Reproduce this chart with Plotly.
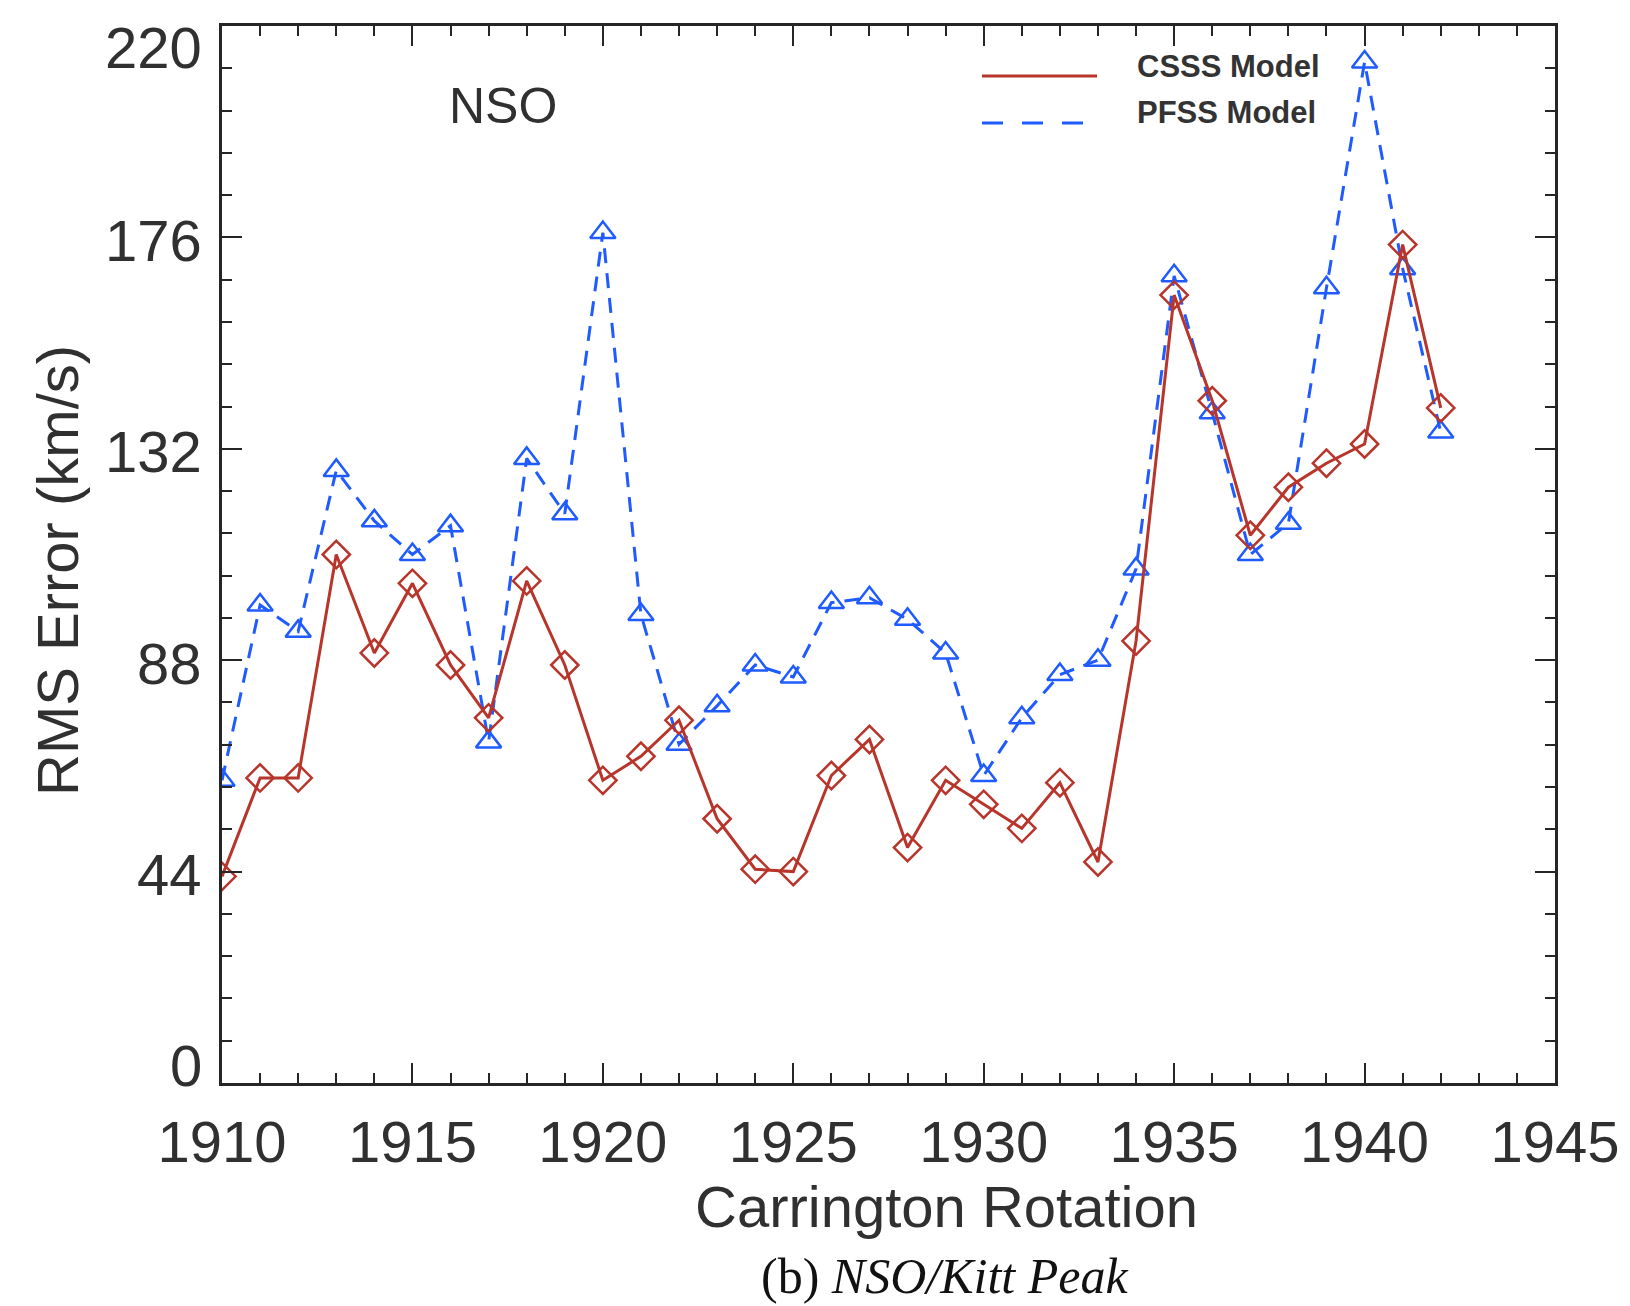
import plotly.graph_objects as go

# Carrington rotation numbers and RMS errors of the solar-wind speed predictions (km/s)
rotations = list(range(1910, 1943))
csss_rms = [43, 63.5, 63.5, 110, 89.5, 104, 87, 76, 104.5, 87, 63, 68, 75.5,
            55, 44.5, 44, 64, 71.5, 49, 63, 58, 53, 62.5, 46, 92, 164, 142,
            114, 124, 129, 133, 174.5, 140.5]
pfss_rms = [63, 99.5, 94, 127.5, 117, 110, 116, 71, 130, 118.5, 177, 97.5, 70.5,
            78.5, 87, 84.5, 100, 101, 96.5, 89.5, 64, 76, 85, 88, 107, 168, 139.5,
            110, 116.5, 165.5, 212.5, 169.5, 135.5]

x_ticks = [1910, 1915, 1920, 1925, 1930, 1935, 1940, 1945]
y_ticks = [0, 44, 88, 132, 176, 220]

series_names = ["CSSS Model", "PFSS Model"]
panel_label = "NSO"
x_title = "Carrington Rotation"
y_title = "RMS Error (km/s)"

RED = "#b8352b"
BLUE = "#1f5bff"
INK = "#262626"
TEXT = "#303030"

W, H = 1630, 1306
L, R, T, B = 222, 1555, 26, 1083  # plot area in pixels


def px(xp):
    return (xp - L) / (R - L)


def py(yp):
    return (B - yp) / (B - T)


fig = go.Figure()

fig.add_trace(go.Scatter(
    x=rotations, y=pfss_rms, mode="lines+markers", name=series_names[1],
    line=dict(color=BLUE, width=3, dash="15px,10px"),
    marker=dict(symbol="triangle-up-open", size=22, color=BLUE,
                line=dict(width=2.5, color=BLUE)),
    showlegend=False,
))
fig.add_trace(go.Scatter(
    x=rotations, y=csss_rms, mode="lines+markers", name=series_names[0],
    line=dict(color=RED, width=3),
    marker=dict(symbol="diamond-open", size=21, color=RED,
                line=dict(width=2.5, color=RED)),
    showlegend=False,
))

axis_common = dict(
    showline=True, linewidth=3, linecolor=INK, mirror="ticks",
    ticks="inside", ticklen=20, tickwidth=2, tickcolor=INK,
    showgrid=False, zeroline=False, automargin=False,
    ticklabeloverflow="allow",
    tickfont=dict(family="Liberation Sans", size=58, color=TEXT),
)

fig.update_xaxes(
    range=[1910, 1945], tickvals=x_ticks, ticktext=[str(v) for v in x_ticks],
    minor=dict(dtick=1, ticks="inside", ticklen=10, tickwidth=2, tickcolor=INK),
    ticklabelstandoff=6,
    **axis_common,
)
fig.update_yaxes(
    range=[0, 220], tickvals=y_ticks, showticklabels=False,
    minor=dict(dtick=8.8, tick0=0, ticks="inside", ticklen=10, tickwidth=2, tickcolor=INK),
    **axis_common,
)

# y tick labels placed on the y scale; the end labels are nudged inside the figure
end_nudge = {y_ticks[0]: 18, y_ticks[-1]: -21}
annotations = [
    dict(text=str(v), x=px(204), y=v, xref="paper", yref="y",
         showarrow=False, xanchor="right", yanchor="middle",
         yshift=end_nudge.get(v, -3),
         font=dict(family="Liberation Sans", size=58, color=TEXT))
    for v in y_ticks
]

annotations += [
    dict(text=x_title, x=px(946), y=py(1206), xref="paper", yref="paper",
         showarrow=False, xanchor="center", yanchor="middle",
         font=dict(family="Liberation Sans", size=58, color=TEXT)),
    dict(text=y_title, x=px(57), y=py(571), xref="paper", yref="paper",
         showarrow=False, xanchor="center", yanchor="middle", textangle=-90,
         font=dict(family="Liberation Sans", size=58, color=TEXT)),
    dict(text=panel_label, x=px(503), y=py(106), xref="paper", yref="paper",
         showarrow=False, xanchor="center", yanchor="middle",
         font=dict(family="Liberation Sans", size=50, color=TEXT)),
    dict(text="<b>" + series_names[0] + "</b>", x=px(1135), y=py(66), xref="paper", yref="paper",
         showarrow=False, xanchor="left", yanchor="middle",
         font=dict(family="Liberation Sans", size=31, color="#333333")),
    dict(text="<b>" + series_names[1] + "</b>", x=px(1135), y=py(112), xref="paper", yref="paper",
         showarrow=False, xanchor="left", yanchor="middle",
         font=dict(family="Liberation Sans", size=31, color="#333333")),
    dict(text="(b) <i>NSO/Kitt Peak</i>", x=px(944), y=py(1276), xref="paper", yref="paper",
         showarrow=False, xanchor="center", yanchor="middle",
         font=dict(family="Liberation Serif", size=50, color="#111111")),
]

shapes = [
    dict(type="line", xref="paper", yref="paper", x0=px(982), x1=px(1097),
         y0=py(76), y1=py(76), line=dict(color=RED, width=3)),
    dict(type="line", xref="paper", yref="paper", x0=px(982), x1=px(1083),
         y0=py(123), y1=py(123), line=dict(color=BLUE, width=3, dash="21px,19px")),
]

fig.update_layout(
    width=W, height=H,
    margin=dict(l=L, r=W - R, t=T, b=H - B, pad=0, autoexpand=False),
    paper_bgcolor="white", plot_bgcolor="white",
    annotations=annotations, shapes=shapes,
    showlegend=False,
)

fig.write_html("out.html", config={"displayModeBar": False})
